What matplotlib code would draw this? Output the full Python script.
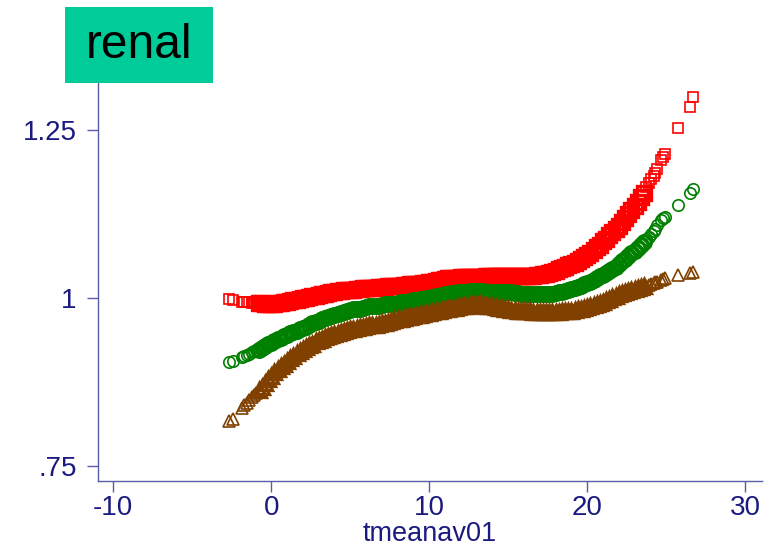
"""Local spline fit (renal): estimate and bounds against tmeanav01."""

import matplotlib
matplotlib.use("Agg")
import matplotlib.pyplot as plt
from matplotlib.patches import Rectangle
import numpy as np

# x observations (shared by all three series)
x_left = [-2.65, -2.45, -1.85, -1.7, -1.55, -1.4, -1.25, -1.1, -0.95]
x_mid = [
    -0.8, -0.6, -0.4, -0.2,
    0.0, 0.2, 0.4, 0.6, 0.8, 1.0, 1.2, 1.4, 1.6, 1.8,
    2.0, 2.2, 2.4, 2.6, 2.8, 3.0, 3.2, 3.4, 3.6, 3.8,
    4.0, 4.2, 4.4, 4.6, 4.8, 5.0, 5.2, 5.4, 5.6, 5.8,
    6.0, 6.2, 6.4, 6.6, 6.8, 7.0, 7.2, 7.4, 7.6, 7.8,
    8.0, 8.2, 8.4, 8.6, 8.8, 9.0, 9.2, 9.4, 9.6, 9.8,
    10.0, 10.2, 10.4, 10.6, 10.8, 11.0, 11.2, 11.4, 11.6, 11.8,
    12.0, 12.2, 12.4, 12.6, 12.8, 13.0, 13.2, 13.4, 13.6, 13.8,
    14.0, 14.2, 14.4, 14.6, 14.8, 15.0, 15.2, 15.4, 15.6, 15.8,
    16.0, 16.2, 16.4, 16.6, 16.8, 17.0, 17.2, 17.4, 17.6, 17.8,
    18.0, 18.2, 18.4, 18.6, 18.8, 19.0, 19.2, 19.4, 19.6, 19.8,
    20.0, 20.2, 20.4, 20.6, 20.8, 21.0, 21.2, 21.4, 21.6, 21.8,
    22.0, 22.2, 22.4, 22.6, 22.8, 23.0, 23.2, 23.4, 23.6,
]
x_right = [23.75, 23.9, 24.05, 24.2, 24.3, 24.45, 24.65, 24.8, 24.92, 25.74, 26.5, 26.69]

# upper bound (red squares)
upper = [
    0.998, 0.997, 0.994, 0.994, 0.993, 0.993, 0.992, 0.992, 0.992,
    0.992, 0.992, 0.991, 0.991,
    0.991, 0.991, 0.992, 0.992, 0.993, 0.994, 0.995, 0.996, 0.997, 0.998,
    0.999, 1.000, 1.001, 1.002, 1.003, 1.004, 1.005, 1.006, 1.007, 1.008,
    1.009, 1.010, 1.010, 1.011, 1.011, 1.012, 1.012, 1.013, 1.013, 1.014,
    1.014, 1.014, 1.015, 1.015, 1.016, 1.016, 1.016, 1.017, 1.017, 1.018,
    1.018, 1.018, 1.019, 1.019, 1.020, 1.020, 1.021, 1.021, 1.022, 1.022,
    1.023, 1.024, 1.025, 1.026, 1.027, 1.028, 1.029, 1.029, 1.030, 1.030,
    1.031, 1.031, 1.031, 1.031, 1.031, 1.031, 1.031, 1.031, 1.032, 1.032,
    1.032, 1.032, 1.032, 1.032, 1.032, 1.032, 1.032, 1.032, 1.032, 1.032,
    1.032, 1.032, 1.033, 1.033, 1.034, 1.034, 1.035, 1.036, 1.037, 1.038,
    1.040, 1.042, 1.044, 1.046, 1.048, 1.050, 1.052, 1.055, 1.058, 1.060,
    1.063, 1.067, 1.071, 1.075, 1.079, 1.084, 1.088, 1.093, 1.097, 1.102,
    1.106, 1.112, 1.118, 1.124, 1.130, 1.136, 1.142, 1.149, 1.156,
    1.165, 1.170, 1.176, 1.181, 1.185, 1.191, 1.204, 1.209, 1.214, 1.252, 1.284, 1.298,
]

# point estimate (green circles)
estimate = [
    0.904, 0.906, 0.912, 0.913, 0.915, 0.917, 0.919, 0.921, 0.922,
    0.923, 0.926, 0.928, 0.931,
    0.933, 0.936, 0.938, 0.940, 0.943, 0.945, 0.947, 0.949, 0.951, 0.953,
    0.955, 0.957, 0.959, 0.962, 0.964, 0.966, 0.968, 0.970, 0.971, 0.973,
    0.975, 0.976, 0.978, 0.979, 0.981, 0.982, 0.983, 0.984, 0.984, 0.985,
    0.986, 0.987, 0.987, 0.988, 0.988, 0.989, 0.990, 0.990, 0.991, 0.991,
    0.992, 0.993, 0.994, 0.994, 0.995, 0.996, 0.997, 0.998, 0.998, 0.999,
    1.000, 1.001, 1.002, 1.003, 1.004, 1.005, 1.006, 1.007, 1.007, 1.008,
    1.009, 1.009, 1.009, 1.010, 1.010, 1.010, 1.010, 1.010, 1.009, 1.009,
    1.009, 1.009, 1.009, 1.008, 1.008, 1.008, 1.008, 1.007, 1.007, 1.006,
    1.006, 1.006, 1.005, 1.005, 1.005, 1.005, 1.005, 1.005, 1.006, 1.006,
    1.007, 1.008, 1.009, 1.010, 1.011, 1.013, 1.015, 1.016, 1.018, 1.020,
    1.022, 1.024, 1.027, 1.029, 1.032, 1.034, 1.037, 1.040, 1.043, 1.046,
    1.050, 1.054, 1.058, 1.062, 1.066, 1.070, 1.074, 1.079, 1.083,
    1.087, 1.091, 1.095, 1.099, 1.102, 1.108, 1.116, 1.118, 1.120, 1.138, 1.156, 1.162,
]

# lower bound (brown triangles)
lower = [
    0.817, 0.820, 0.836, 0.840, 0.844, 0.848, 0.852, 0.856, 0.859,
    0.863, 0.868, 0.874, 0.879,
    0.884, 0.889, 0.894, 0.898, 0.902, 0.906, 0.910, 0.914, 0.918, 0.921,
    0.924, 0.927, 0.930, 0.932, 0.935, 0.937, 0.939, 0.941, 0.943, 0.945,
    0.946, 0.948, 0.949, 0.951, 0.952, 0.953, 0.954, 0.955, 0.956, 0.957,
    0.958, 0.959, 0.960, 0.960, 0.961, 0.962, 0.963, 0.964, 0.966, 0.967,
    0.968, 0.969, 0.970, 0.971, 0.972, 0.973, 0.974, 0.975, 0.976, 0.977,
    0.978, 0.979, 0.980, 0.981, 0.982, 0.983, 0.984, 0.985, 0.985, 0.986,
    0.987, 0.988, 0.988, 0.989, 0.990, 0.990, 0.990, 0.989, 0.988, 0.988,
    0.987, 0.986, 0.985, 0.985, 0.984, 0.983, 0.982, 0.982, 0.981, 0.981,
    0.980, 0.980, 0.980, 0.979, 0.979, 0.979, 0.979, 0.979, 0.979, 0.979,
    0.979, 0.979, 0.980, 0.980, 0.980, 0.981, 0.982, 0.983, 0.984, 0.985,
    0.986, 0.988, 0.989, 0.991, 0.992, 0.994, 0.996, 0.998, 1.001, 1.003,
    1.005, 1.007, 1.008, 1.010, 1.011, 1.013, 1.014, 1.016, 1.017,
    1.018, 1.019, 1.020, 1.022, 1.023, 1.024, 1.027, 1.028, 1.029, 1.034, 1.037, 1.039,
]

xticks = [-10, 0, 10, 20, 30]
yticks = [0.75, 1.0, 1.25]
ytick_labels = [".75", "1", "1.25"]
panel_title = "renal"
x_title = "tmeanav01"

NAVY = "#1a1a80"
AXIS = "#5b5ba8"

plt.rcParams["font.family"] = ["Liberation Sans", "DejaVu Sans"]
plt.rcParams["axes.unicode_minus"] = False

x = np.array(x_left + x_mid + x_right)
n_left, n_mid = len(x_left), len(x_mid)
dense = slice(n_left, n_left + n_mid)
sparse = np.r_[0:n_left, n_left + n_mid:len(x)]

fig = plt.figure(figsize=(7.71, 5.47), dpi=100)
ax = fig.add_axes([0.1265, 0.1207, 0.8615, 0.7696])

series = [
    (np.array(upper), "s", 7.8, "#ff0000"),
    (np.array(estimate), "o", 8.2, "#008000"),
    (np.array(lower), "^", 8.6, "#7f4000"),
]
for y, mk, ms, col in series:
    # the dense middle is a solid band of overlapping markers in the original
    ax.plot(x[dense], y[dense], ls="none", marker=mk, ms=ms + 1.6, mfc="none", mec=col, mew=2.4)
    ax.plot(x[sparse], y[sparse], ls="none", marker=mk, ms=ms, mfc="none", mec=col, mew=1.2)

ax.set_xlim(-11.0, 31.05)
ax.set_ylim(0.7277, 1.3533)
ax.set_xticks(xticks)
ax.set_yticks(yticks)
ax.set_yticklabels(ytick_labels)

for side in ("top", "right"):
    ax.spines[side].set_visible(False)
for side in ("left", "bottom"):
    ax.spines[side].set_color(AXIS)
    ax.spines[side].set_linewidth(1.0)

ax.tick_params(axis="both", colors=AXIS, labelcolor=NAVY, labelsize=20, length=8, width=1)
ax.tick_params(axis="y", pad=7)
ax.tick_params(axis="x", pad=2)
ax.set_xlabel(x_title, fontsize=19.5, color=NAVY, labelpad=0)

# title box in the top-left corner
fig.add_artist(Rectangle((65 / 771, 1 - 83 / 547), 148 / 771, 76 / 547,
                         transform=fig.transFigure, facecolor="#00cc99", edgecolor="none"))
fig.text(139 / 771, 1 - 46 / 547, panel_title, ha="center", va="center", fontsize=34.5, color="black")

fig.savefig("out.png", dpi=100)
